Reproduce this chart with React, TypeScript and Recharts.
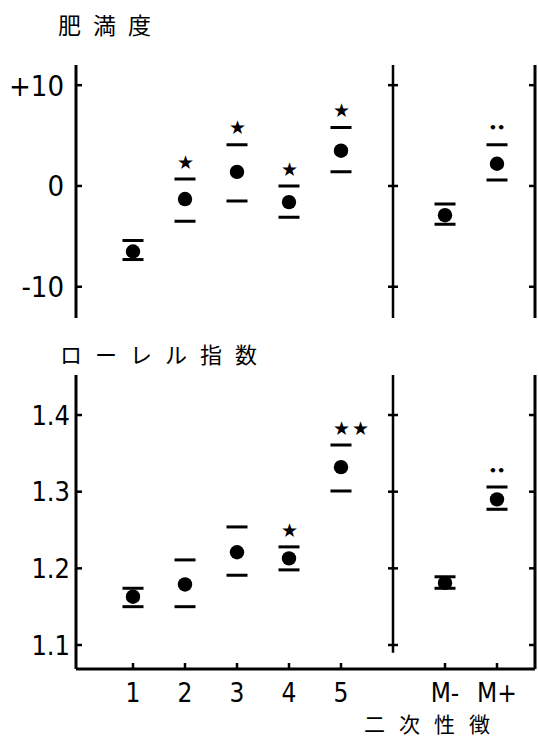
import {
  ComposedChart,
  Scatter,
  XAxis,
  YAxis,
  ReferenceLine,
  ReferenceDot,
} from "recharts";

// 1-5 = stages, "gap" = blank slot where the divider line sits, then M-/M+
const categories = ["1", "2", "3", "4", "5", "gap", "M-", "M+"];

// 肥満度 (obesity index, %)
const himanMean = [-6.5, -1.3, 1.4, -1.6, 3.5, null, -2.9, 2.2];
const himanUpper = [-5.4, 0.7, 4.1, 0.0, 5.8, null, -1.8, 4.1];
const himanLower = [-7.3, -3.5, -1.5, -3.1, 1.4, null, -3.8, 0.6];
const himanMarks = ["", "★", "★", "★", "★", "", "", "••"];
const himanTicks = [-10, 0, 10];

// ローレル指数 (Rohrer index)
const rohrerMean = [1.163, 1.179, 1.221, 1.213, 1.332, null, 1.181, 1.29];
const rohrerUpper = [1.174, 1.211, 1.254, 1.228, 1.361, null, 1.189, 1.306];
const rohrerLower = [1.15, 1.15, 1.191, 1.198, 1.301, null, 1.174, 1.277];
const rohrerMarks = ["", "", "", "★", "★★", "", "", "••"];
const rohrerTicks = [1.1, 1.2, 1.3, 1.4];

const NUM_FONT = "'DejaVu Sans Condensed', 'DejaVu Sans', sans-serif";
const CJK_FONT = "'Noto Sans CJK JP', sans-serif";

function buildRows(mean, upper, lower, marks) {
  return categories.map((cat, i) => ({
    cat,
    mean: mean[i],
    upper: upper[i],
    lower: lower[i],
    mark: marks[i],
  }));
}

const himanRows = buildRows(himanMean, himanUpper, himanLower, himanMarks);
const rohrerRows = buildRows(rohrerMean, rohrerUpper, rohrerLower, rohrerMarks);

function Dot(props) {
  const { cx, cy, payload } = props;
  if (payload.mean == null) return <g />;
  return <circle cx={cx} cy={cy} r={7.2} fill="#000" />;
}

function Cap(props) {
  const { cx, cy, payload } = props;
  if (payload.mean == null) return <g />;
  const mark = props.withMark ? payload.mark : "";
  const isStar = mark.startsWith("★");
  return (
    <g>
      <line x1={cx - 10.5} x2={cx + 10.5} y1={cy} y2={cy} stroke="#000" strokeWidth={3} />
      {mark && (
        <text
          x={isStar ? cx - 8 : cx}
          y={cy - 17}
          dy="0.35em"
          textAnchor={isStar ? "start" : "middle"}
          fontSize={isStar ? 19 : 13}
          fontWeight={isStar ? "normal" : "bold"}
          letterSpacing={isStar ? 2 : 0}
          fontFamily="'DejaVu Sans', sans-serif"
          fill="#000"
        >
          {mark}
        </text>
      )}
    </g>
  );
}

function LeftTick(props) {
  const { x, y, payload, format, gap, fontSize } = props;
  return (
    <g>
      <line x1={x} x2={x + 6} y1={y} y2={y} stroke="#000" strokeWidth={2.5} />
      <text
        x={x - gap}
        y={y}
        dy="0.36em"
        textAnchor="end"
        fontSize={fontSize}
        fontFamily={NUM_FONT}
        fill="#000"
      >
        {format(payload.value)}
      </text>
    </g>
  );
}

function RightTick(props) {
  const { x, y } = props;
  return <line x1={x - 6} x2={x} y1={y} y2={y} stroke="#000" strokeWidth={2.5} />;
}

function MidTick(props) {
  const { cx, cy } = props;
  return <line x1={cx - 5} x2={cx + 5} y1={cy} y2={cy} stroke="#000" strokeWidth={2.5} />;
}

function BottomTick(props) {
  const { x, y, payload } = props;
  if (payload.value === "gap") return <g />;
  return (
    <g>
      <line x1={x} x2={x} y1={y} y2={y - 6} stroke="#000" strokeWidth={2.5} />
      <text
        x={x}
        y={y + 33}
        textAnchor="middle"
        fontSize={26}
        fontFamily={NUM_FONT}
        fill="#000"
      >
        {payload.value}
      </text>
    </g>
  );
}

const fmtHiman = (v) => (v > 0 ? "+" + v : String(v));
const fmtRohrer = (v) => v.toFixed(1);

function Panel({ rows, domain, ticks, format, gap, midSegment, top, height, margin, showX }) {
  return (
    <div style={{ position: "absolute", left: 0, top }}>
      <ComposedChart width={538} height={height} data={rows} margin={margin}>
        <XAxis
          dataKey="cat"
          type="category"
          hide={!showX}
          height={40}
          padding={{ left: 57, right: 38 }}
          axisLine={{ stroke: "#000", strokeWidth: 3 }}
          tickLine={false}
          tickSize={0}
          tickMargin={0}
          interval={0}
          tick={(p) => <BottomTick {...p} />}
        />
        <YAxis
          yAxisId="left"
          width={76}
          domain={domain}
          ticks={ticks}
          allowDataOverflow
          interval={0}
          axisLine={{ stroke: "#000", strokeWidth: 3 }}
          tickLine={false}
          tickSize={0}
          tickMargin={0}
          tick={(p) => <LeftTick {...p} format={format} gap={gap} fontSize={format === fmtHiman ? 29 : 27} />}
        />
        <YAxis
          yAxisId="right"
          orientation="right"
          width={2}
          domain={domain}
          ticks={ticks}
          allowDataOverflow
          interval={0}
          axisLine={{ stroke: "#000", strokeWidth: 3 }}
          tickLine={false}
          tickSize={0}
          tickMargin={0}
          tick={(p) => <RightTick {...p} />}
        />
        {midSegment ? (
          <ReferenceLine
            yAxisId="left"
            segment={[
              { x: "gap", y: domain[1] },
              { x: "gap", y: midSegment },
            ]}
            stroke="#000"
            strokeWidth={2.5}
            ifOverflow="visible"
          />
        ) : (
          <ReferenceLine yAxisId="left" x="gap" stroke="#000" strokeWidth={2.5} />
        )}
        {ticks.map((t) => (
          <ReferenceDot
            key={t}
            yAxisId="left"
            x="gap"
            y={t}
            ifOverflow="visible"
            shape={(p) => <MidTick {...p} />}
          />
        ))}
        <Scatter
          yAxisId="left"
          dataKey="lower"
          isAnimationActive={false}
          shape={(p) => <Cap {...p} />}
        />
        <Scatter
          yAxisId="left"
          dataKey="upper"
          isAnimationActive={false}
          shape={(p) => <Cap {...p} withMark />}
        />
        <Scatter
          yAxisId="left"
          dataKey="mean"
          isAnimationActive={false}
          shape={(p) => <Dot {...p} />}
        />
      </ComposedChart>
    </div>
  );
}

const titleStyle = {
  position: "absolute",
  fontFamily: CJK_FONT,
  color: "#000",
  whiteSpace: "nowrap",
  lineHeight: 1,
};

export default function App() {
  return (
    <div
      style={{
        position: "absolute",
        left: 0,
        top: 0,
        width: 538,
        height: 741,
        background: "#fff",
        overflow: "hidden",
      }}
    >
      <div style={{ ...titleStyle, left: 58, top: 13, fontSize: 23, letterSpacing: 12 }}>肥満度</div>
      <Panel
        rows={himanRows}
        domain={[-13.1, 12]}
        ticks={himanTicks}
        format={fmtHiman}
        gap={12}
        top={0}
        height={330}
        margin={{ top: 65, right: 1, bottom: 12, left: 0 }}
        showX={false}
      />
      <div style={{ ...titleStyle, left: 60, top: 342, fontSize: 22, letterSpacing: 13 }}>ローレル指数</div>
      <Panel
        rows={rohrerRows}
        domain={[1.0687, 1.4522]}
        ticks={rohrerTicks}
        format={fmtRohrer}
        gap={6}
        midSegment={1.09}
        top={360}
        height={381}
        margin={{ top: 15, right: 1, bottom: 32, left: 0 }}
        showX
      />
      <div style={{ ...titleStyle, left: 364, top: 713, fontSize: 21, letterSpacing: 14 }}>二次性徴</div>
    </div>
  );
}
